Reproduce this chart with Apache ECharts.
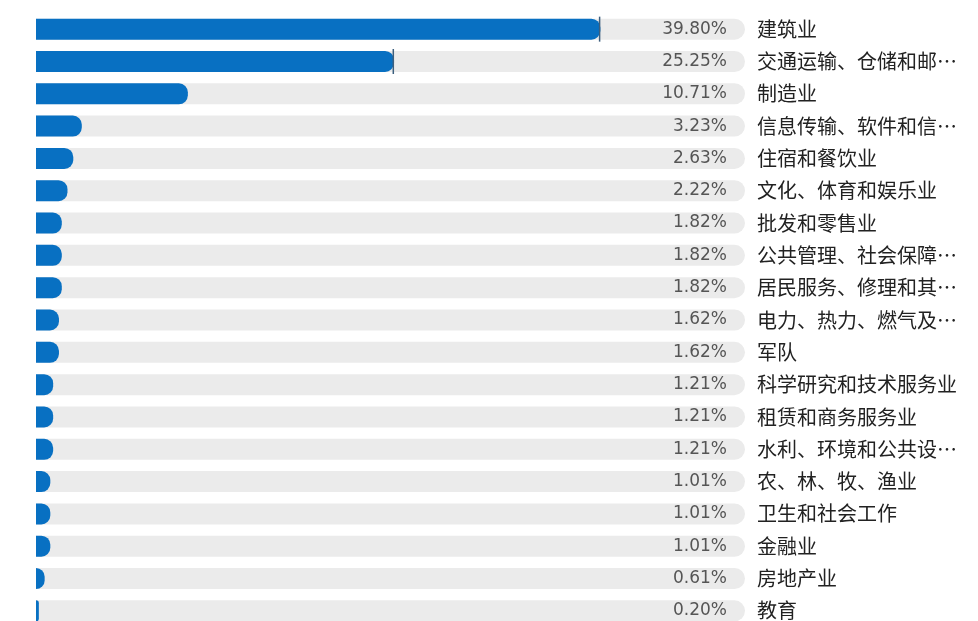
<!DOCTYPE html>
<html><head><meta charset="utf-8">
<script src="https://cdn.jsdelivr.net/npm/echarts@6/dist/echarts.min.js"></script>
<style>html,body{margin:0;padding:0;background:#fff;overflow:hidden}#c{width:978px;height:640px}</style>
</head><body><div id="c"></div>
<script>
var categories = ['建筑业','交通运输、仓储和邮政业','制造业','信息传输、软件和信息技术服务业','住宿和餐饮业','文化、体育和娱乐业','批发和零售业','公共管理、社会保障和社会组织','居民服务、修理和其他服务业','电力、热力、燃气及水生产和供应业','军队','科学研究和技术服务业','租赁和商务服务业','水利、环境和公共设施管理业','农、林、牧、渔业','卫生和社会工作','金融业','房地产业','教育'];
var values = [39.80,25.25,10.71,3.23,2.63,2.22,1.82,1.82,1.82,1.62,1.62,1.21,1.21,1.21,1.01,1.01,1.01,0.61,0.20];
var axisMax = 50;
var endMarks = values.map(function(v,i){ return i < 2 ? v : null; });

var chart = echarts.init(document.getElementById('c'));
chart.setOption({
  animation: false,
  grid: { left: 36, top: 13, height: 614, width: 709, containLabel: false },
  xAxis: { type: 'value', min: 0, max: axisMax, show: false },
  yAxis: [
    { type: 'category', inverse: true, data: categories, show: false },
    { type: 'category', inverse: true, data: categories, position: 'right',
      axisLine: { show: false }, axisTick: { show: false }, splitLine: { show: false },
      axisLabel: { margin: 12, align: 'left', color: '#222', fontSize: 20,
        fontFamily: '"Noto Sans CJK SC", sans-serif', width: 206, overflow: 'truncate', ellipsis: '…' } }
  ],
  series: [
    { type: 'bar', yAxisIndex: 0, barWidth: 21, barGap: '-100%', silent: true,
      data: categories.map(function(){ return axisMax; }),
      itemStyle: { color: '#ebebeb', borderRadius: [0, 11, 11, 0] },
      label: { show: true, position: 'insideRight', distance: 18, color: '#555',
        fontSize: 17, fontFamily: '"DejaVu Sans", sans-serif',
        formatter: function(p){ return values[p.dataIndex].toFixed(2) + '%'; } } },
    { type: 'bar', yAxisIndex: 0, barWidth: 21, barGap: '-100%', z: 3,
      data: values, itemStyle: { color: '#0870c2', borderRadius: [0, 9, 9, 0] } },
    { type: 'pictorialBar', yAxisIndex: 0, z: 4, symbol: 'rect', symbolPosition: 'end',
      symbolSize: [1.5, 25], symbolOffset: [0, 0], barGap: '-100%',
      itemStyle: { color: '#3d5f7e' }, data: endMarks }
  ]
});
</script></body></html>
